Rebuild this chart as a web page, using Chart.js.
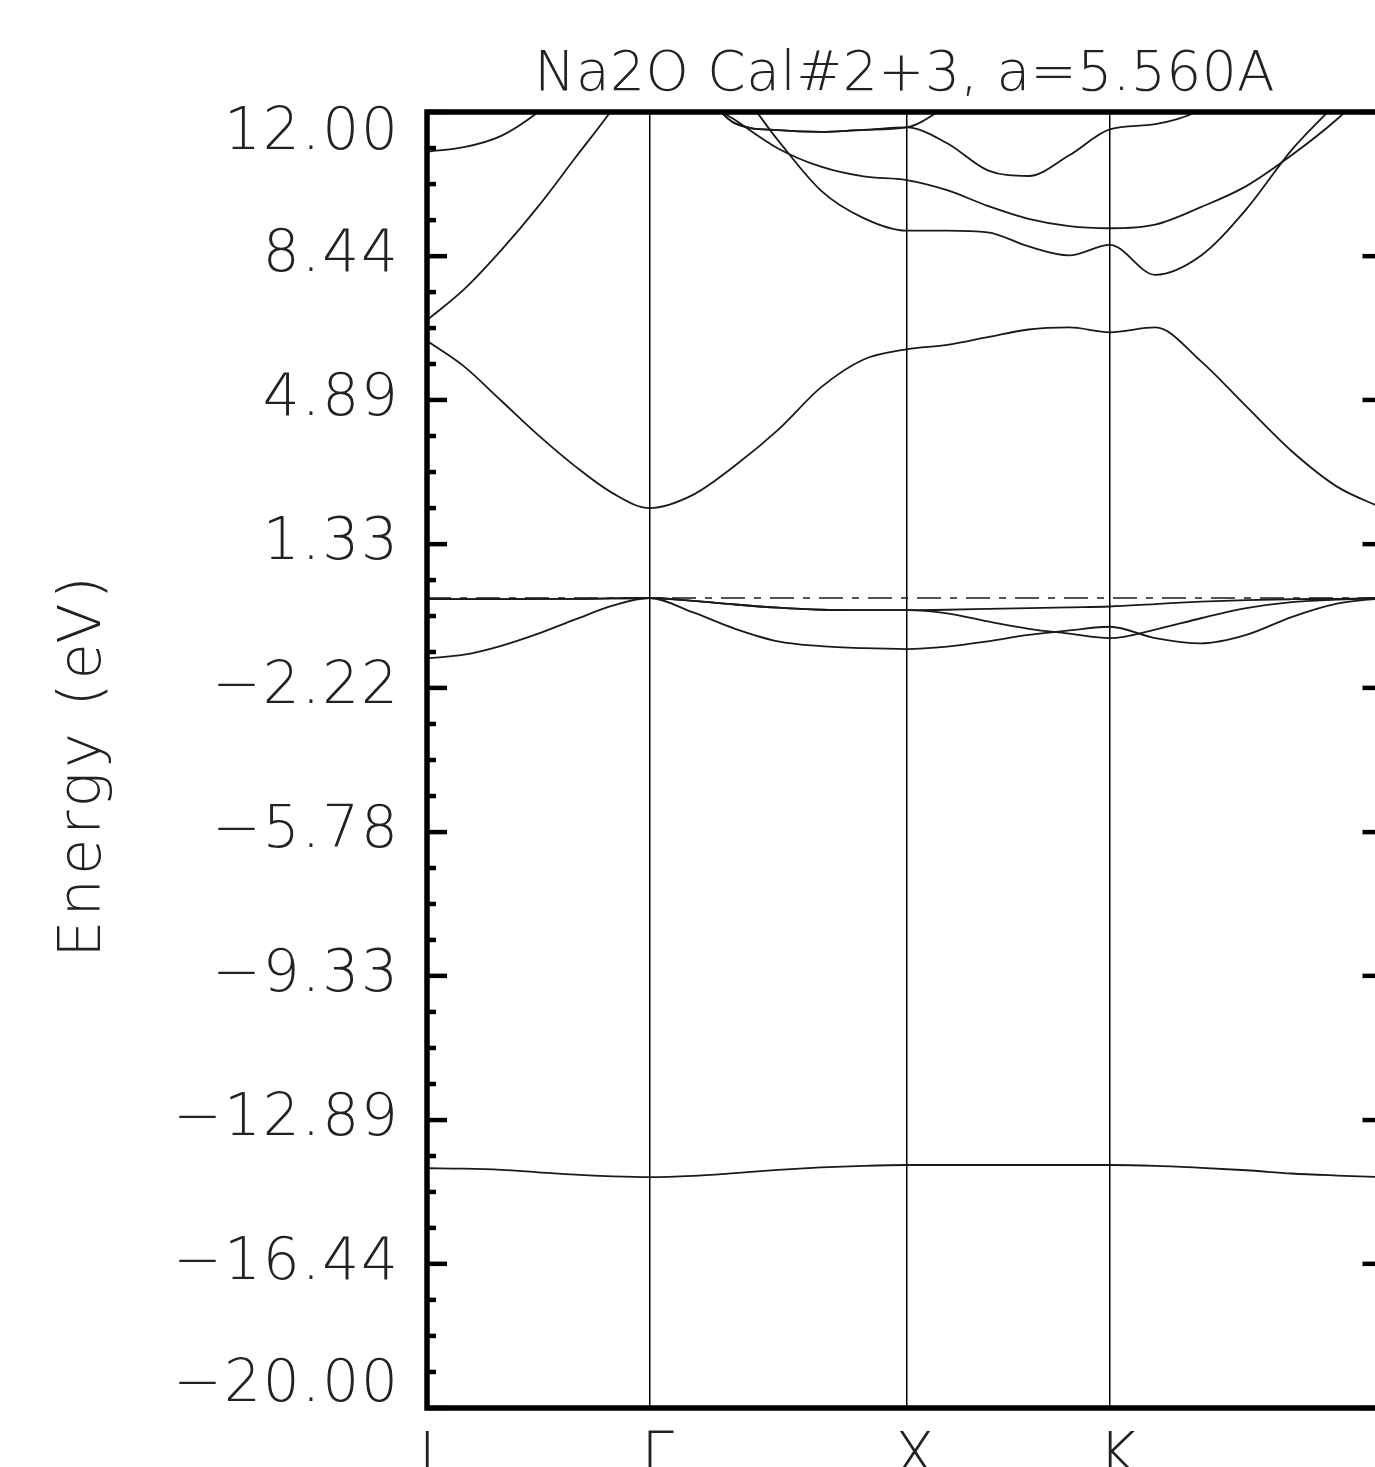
<!DOCTYPE html>
<html>
<head>
<meta charset="utf-8">
<script src="https://cdn.jsdelivr.net/npm/chart.js@4.4.1/dist/chart.umd.min.js"></script>
<style>
  html, body { margin: 0; padding: 0; background: #fff; overflow: hidden; }
  #wrap { width: 1375px; height: 1467px; overflow: hidden; position: relative; }
  #myChart { position: absolute; left: 0; top: 0; }
</style>
</head>
<body>
<div id="wrap"><canvas id="myChart" width="1400" height="1467"></canvas></div>
<script>
const chartTitle = "Na2O Cal#2+3, a=5.560A";
const yTitle = "Energy (eV)";

// k-path distance (2pi/a units): L -> Gamma -> X -> K -> Gamma
const kDist = [0, 0.144, 0.289, 0.433, 0.577, 0.722, 0.866,
  1.033, 1.199, 1.366, 1.533, 1.699, 1.866,
  2.024, 2.182, 2.341, 2.499, 2.657,
  2.834, 3.011, 3.188, 3.364, 3.541, 3.718];
const kPoints = [0, 0.866, 1.866, 2.657, 3.718];
const kLabels = ["L", "Γ", "X", "K", "Γ"];
const yTicks = [-20.00, -16.44, -12.89, -9.33, -5.78, -2.22, 1.33, 4.89, 8.44, 12.00];
const fermiLevel = 0;

// band energies (eV) at each kDist point
const bandO2s = [-14.08, -14.09, -14.12, -14.18, -14.24, -14.28, -14.30, -14.27, -14.20, -14.12, -14.06, -14.02, -14.00, -14.00, -14.00, -14.00, -14.00, -14.00, -14.02, -14.07, -14.13, -14.21, -14.26, -14.30];
const bandV1 = [-1.49, -1.40, -1.18, -0.88, -0.53, -0.19, 0.00, -0.35, -0.76, -1.07, -1.19, -1.24, -1.26, -1.20, -1.07, -0.91, -0.80, -0.71, -0.99, -1.12, -0.91, -0.47, -0.14, 0.00];
const bandV2 = [-0.03, -0.03, -0.03, -0.02, -0.02, -0.01, 0.00, -0.07, -0.16, -0.24, -0.29, -0.30, -0.30, -0.38, -0.58, -0.76, -0.88, -0.99, -0.78, -0.50, -0.25, -0.10, -0.04, 0.00];
const bandV3 = [-0.03, -0.03, -0.03, -0.02, -0.02, -0.01, 0.00, -0.07, -0.16, -0.24, -0.29, -0.30, -0.30, -0.29, -0.27, -0.25, -0.23, -0.21, -0.15, -0.09, -0.05, -0.03, -0.02, 0.00];
const bandC1 = [6.35, 5.72, 4.87, 4.02, 3.25, 2.59, 2.22, 2.54, 3.27, 4.15, 5.20, 5.89, 6.14, 6.25, 6.44, 6.63, 6.68, 6.56, 6.68, 5.85, 4.73, 3.63, 2.75, 2.22];
const bandC2 = [6.86, 7.62, 8.59, 9.67, 10.87, 12.08, 13.5, 13.35, 12.65, 11.30, 10.06, 9.38, 9.07, 9.07, 9.03, 8.68, 8.46, 8.72, 7.98, 8.45, 9.60, 11.06, 12.25, 13.6];
const bandC3 = [11.02, 11.13, 11.41, 12.0, 12.8, 13.4, 13.7, 12.5, 11.8, 11.10, 10.65, 10.41, 10.32, 10.07, 9.68, 9.36, 9.18, 9.13, 9.22, 9.65, 10.17, 10.93, 11.82, 12.9];
const bandC4 = [13.8, 13.8, 13.7, 13.6, 13.5, 13.5, 13.5, 12.8, 11.72, 11.55, 11.51, 11.56, 11.62, 11.23, 10.56, 10.42, 10.93, 11.57, 11.70, 12.05, 12.8, 13.4, 13.9, 14.2];
const bandC5 = [14.8, 14.8, 14.6, 14.3, 14.0, 13.7, 13.5, 12.8, 11.72, 11.55, 11.51, 11.56, 11.62, 12.15, 12.8, 13.3, 13.6, 13.8, 14.0, 14.3, 14.6, 14.9, 15.1, 15.2];

const bands = [bandO2s, bandV1, bandV2, bandV3, bandC1, bandC2, bandC3, bandC4, bandC5];
const fontFamily = "'DejaVu Sans', sans-serif";

const framePlugin = {
  id: "frame",
  beforeDraw(chart) {
    const ctx = chart.ctx;
    ctx.save();
    ctx.fillStyle = "#fff";
    ctx.fillRect(0, 0, chart.width, chart.height);
    ctx.restore();
    ctx.letterSpacing = "2px";
  },
  afterDraw(chart) {
    const { ctx, chartArea: a } = chart;
    const y = chart.scales.y;
    const seg = (x1, y1, x2, y2) => {
      ctx.beginPath();
      ctx.moveTo(x1, y1);
      ctx.lineTo(x2, y2);
      ctx.stroke();
    };
    ctx.save();
    ctx.strokeStyle = "#000";
    ctx.lineWidth = 5.5;
    ctx.strokeRect(a.left, a.top, a.right - a.left, a.bottom - a.top);
    ctx.lineWidth = 4.5;
    yTicks.forEach((v, i) => {
      const py = y.getPixelForValue(v);
      seg(a.left, py, a.left + 20, py);
      seg(a.right - 20, py, a.right, py);
      if (i < yTicks.length - 1) {
        for (let j = 1; j < 4; j++) {
          const pm = y.getPixelForValue(v + (yTicks[i + 1] - v) * j / 4);
          seg(a.left, pm, a.left + 9, pm);
        }
      }
    });
    ctx.fillStyle = "#222";
    ctx.letterSpacing = "0.5px";
    ctx.font = "200 55px " + fontFamily;
    ctx.textAlign = "center";
    ctx.textBaseline = "alphabetic";
    ctx.fillText(chartTitle, (a.left + a.right) / 2, 90);
    ctx.letterSpacing = "4px";
    ctx.font = "200 59px " + fontFamily;
    ctx.translate(100, 765);
    ctx.rotate(-Math.PI / 2);
    ctx.fillText(yTitle, 0, 0);
    ctx.restore();
  }
};

document.addEventListener("DOMContentLoaded", () => {
  const ctx = document.getElementById("myChart").getContext("2d");

  const bandSets = bands.map((b, i) => ({
    label: "band " + (i + 1),
    data: b.map((e, j) => ({ x: kDist[j], y: e })),
    borderColor: "#1a1a1a",
    borderWidth: 1.8,
    pointRadius: 0,
    cubicInterpolationMode: "monotone",
  }));
  bandSets.push({
    label: "Fermi",
    data: [{ x: kPoints[0], y: fermiLevel }, { x: kPoints[kPoints.length - 1], y: fermiLevel }],
    borderColor: "#1a1a1a",
    borderWidth: 1.6,
    borderDash: [24, 9, 7, 9],
    pointRadius: 0,
  });

  const config = {
    type: "line",
    data: { datasets: bandSets },
    options: {
      responsive: false,
      animation: false,
      devicePixelRatio: 1,
      // the frame's right side falls just past the 1375px page edge, as in the source
      layout: { padding: { top: 112, right: 17.5, left: 0, bottom: 0 } },
      plugins: { legend: { display: false }, tooltip: { enabled: false } },
      scales: {
        x: {
          type: "linear",
          min: kPoints[0],
          max: kPoints[kPoints.length - 1],
          afterBuildTicks: (s) => { s.ticks = kPoints.map((v) => ({ value: v })); },
          afterFit: (s) => {
            s.height = 59;
            s.paddingLeft = 0;
            s.paddingRight = 0;
          },
          grid: { color: "#000", lineWidth: 1.5, drawTicks: false },
          border: { display: false },
          ticks: {
            autoSkip: false,
            maxRotation: 0,
            padding: 16,
            labelOffset: 9,
            color: "#222",
            font: { family: fontFamily, size: 58, weight: 200 },
            callback: (v, i) => kLabels[i],
          },
        },
        y: {
          type: "linear",
          min: yTicks[0],
          max: yTicks[yTicks.length - 1],
          afterBuildTicks: (s) => { s.ticks = yTicks.map((v) => ({ value: v })); },
          afterFit: (s) => {
            s.width = 427;
            s.paddingTop = 0;
            s.paddingBottom = 0;
          },
          grid: { display: false, drawTicks: false },
          border: { display: false },
          ticks: {
            autoSkip: false,
            padding: 27,
            color: "#222",
            font: { family: fontFamily, size: 58, weight: 200, lineHeight: "44px" },
            // end labels sit inside the frame, nudged by an empty line
            callback: (v, i, all) => {
              const txt = v.toFixed(2).replace("-", "−");
              if (i === 0) return [txt, ""];
              if (i === all.length - 1) return ["", txt];
              return txt;
            },
          },
        },
      },
    },
    plugins: [framePlugin],
  };

  new Chart(ctx, config);
});
</script>
</body>
</html>
